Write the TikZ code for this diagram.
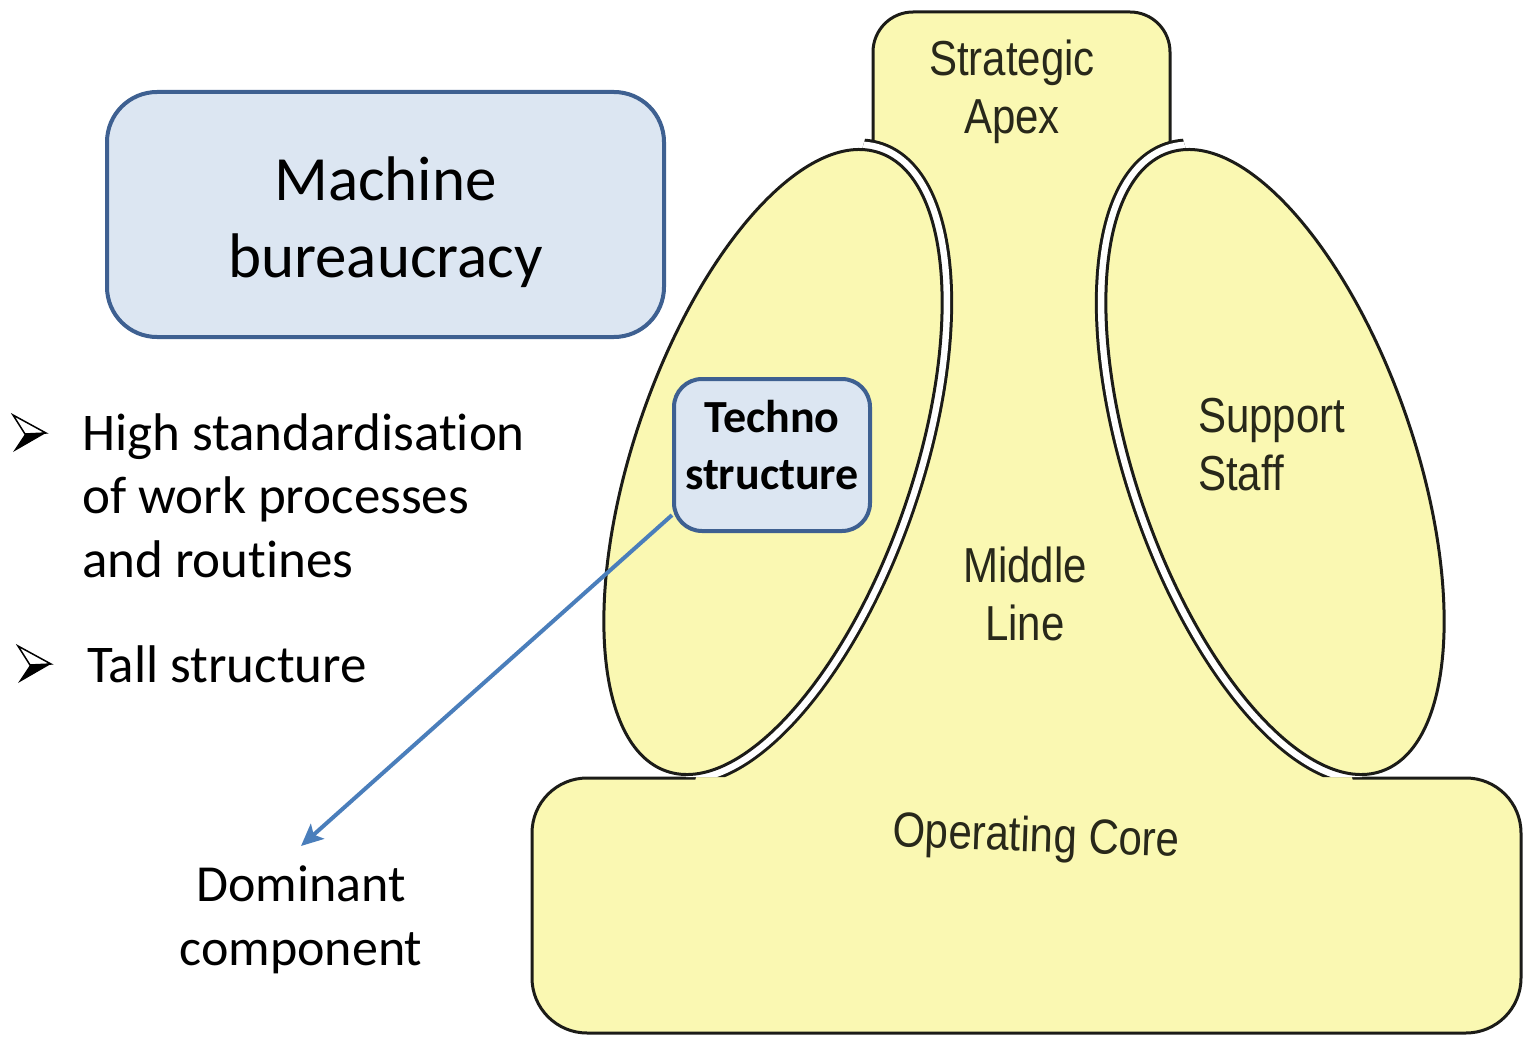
\documentclass[tikz,border=0pt]{standalone}
\usepackage{fontspec}
\setmainfont{Carlito}[Ligatures=NoCommon]
\newfontfamily\labelfont{Liberation Sans}
\usepackage{graphicx}
\usetikzlibrary{arrows.meta}

\definecolor{partfill}{RGB}{250,248,178}
\definecolor{partline}{RGB}{28,28,24}
\definecolor{labeltext}{RGB}{40,40,26}
\definecolor{boxfill}{RGB}{220,230,242}
\definecolor{boxline}{RGB}{62,96,145}
\definecolor{arrowblue}{RGB}{74,126,187}

\newcommand{\tallc}[1]{\scalebox{1}[1.17]{\begin{tabular}{@{}c@{}}#1\end{tabular}}}
\newcommand{\talll}[1]{\scalebox{1}[1.17]{\begin{tabular}{@{}l@{}}#1\end{tabular}}}

\begin{document}
\begin{tikzpicture}[x=1pt,y=-1pt,
  part/.style={fill=partfill,draw=partline,line width=3pt},
  partlabel/.style={font=\labelfont\fontsize{42}{50}\selectfont,text=labeltext,inner sep=0pt},
  bluebox/.style={rectangle,rounded corners=#1,fill=boxfill,draw=boxline,line width=4pt,align=center},
  bullettext/.style={font=\fontsize{53}{63.5}\selectfont,align=left,anchor=north west,inner sep=0pt}]
  \useasboundingbox (0,0) rectangle (1524,1038);

  % Operating core and strategic apex
  \draw[part,rounded corners=55pt] (532,778) rectangle (1521,1033);
  \draw[part,rounded corners=40pt] (873,170) -- (873,12) -- (1170,12) -- (1170,170);

  % Middle line (no outline of its own)
  \fill[partfill] (873,150) -- (1170,150) -- (1178,165) -- (1353,781) -- (695,781) -- (870,165) -- cycle;

  % Techno structure and support staff, with the gap towards the middle
  \foreach \cx/\ang/\xa/\xb in {773/-19/904/686, 1275/19/1144/1362} {
    \begin{scope}
      \clip (\xa,0) -- (1024,0) -- (1024,777) -- (\xb,777) -- cycle;
      \draw[partline,line width=22pt,rotate around={\ang:(\cx,462)}] (\cx,462) ellipse [x radius=139,y radius=327];
      \draw[white,line width=16pt,rotate around={\ang:(\cx,462)}] (\cx,462) ellipse [x radius=139,y radius=327];
    \end{scope}
    \draw[part,rotate around={\ang:(\cx,462)}] (\cx,462) ellipse [x radius=139,y radius=327];
  }

  % Labels
  \node[partlabel] (apex) at (1012,93) {\tallc{Strategic\\Apex}};
  \node[partlabel,anchor=west] (support) at (1198,450) {\talll{Support\\Staff}};
  \node[partlabel] (middle) at (1025,600) {\tallc{Middle\\Line}};
  \node[partlabel,rotate=-2] (core) at (1036,840) {\tallc{Operating Core}};

  % Boxes
  \node[bluebox=50pt,minimum width=557pt,minimum height=245pt,font=\fontsize{63}{77}\selectfont] (machine) at (385.5,214.5) {\rule{0pt}{59pt}Machine\\bureaucracy};
  \node[bluebox=28pt,minimum width=196pt,minimum height=152pt,inner sep=0pt,font=\bfseries\fontsize{46}{57}\selectfont] (techno) at (772,455) {Techno\\structure\rule[-20pt]{0pt}{0pt}};

  % Bullets
  \foreach \bx/\by in {46/433, 51/664} {
    \draw[line width=1.5pt,fill=white,line join=miter] (\bx-33,\by-18) -- (\bx,\by) -- (\bx-21,\by+1) -- cycle;
    \fill (\bx-21,\by+1) -- (\bx,\by) -- (\bx-33,\by+19) -- cycle;
  }
  \node[bullettext] (point1) at (82,413) {High standardisation\\of work processes\\and routines};
  \node[bullettext] (point2) at (87,645) {Tall structure};

  % Dominant component
  \node[font=\fontsize{52}{64}\selectfont,align=center,anchor=north,inner xsep=0pt,inner ysep=20pt] (dominant) at (301,846) {Dominant\\component};
  \draw[arrowblue,line width=4pt,-{Stealth[length=22pt,width=20pt,inset=5pt]}] (techno.211) -- (dominant.north);
\end{tikzpicture}
\end{document}
